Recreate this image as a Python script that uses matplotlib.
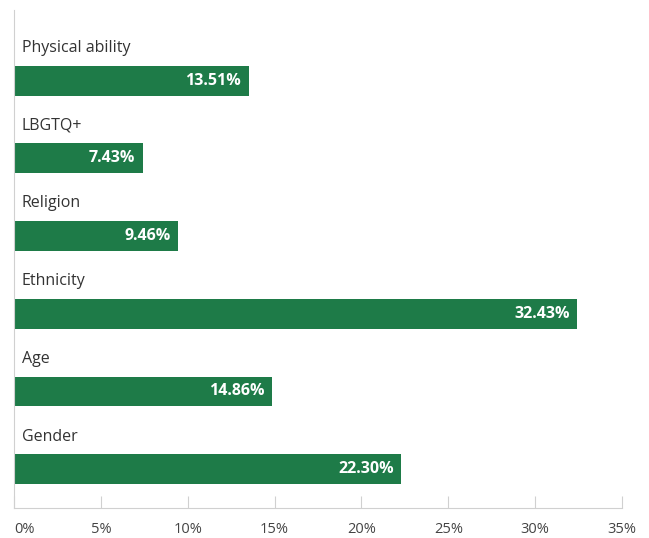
import matplotlib
matplotlib.use("Agg")
from matplotlib import pyplot as plt

categories = ["Gender", "Age", "Ethnicity", "Religion", "LBGTQ+", "Physical ability"]
values = [22.30, 14.86, 32.43, 9.46, 7.43, 13.51]
xticks = [0, 5, 10, 15, 20, 25, 30, 35]

green = "#1e7b48"
grid_grey = "#d0d0d0"

plt.rcParams['font.family'] = ['Open Sans', 'DejaVu Sans']

fig = plt.figure(figsize=(6.49, 5.38), dpi=100)
ax = fig.add_axes([14 / 649, 30 / 538, 608 / 649, 498 / 538])

pos = list(range(len(categories)))
ax.barh(pos, values, height=0.385, color=green, zorder=2)

for p, name, v in zip(pos, categories, values):
    ax.text(0.46, p + 0.42, name, ha='left', va='center', fontsize=11.5, color='#333333')
    ax.text(v - 0.45, p, "%.2f%%" % v, ha='right', va='center', fontsize=11.5,
            color='white', fontweight='bold', zorder=3)

ax.set_xlim(0, 35)
ax.set_ylim(-0.5, 5.91)
ax.set_xticks(xticks)
labels = ax.set_xticklabels(["%d%%" % t for t in xticks], fontsize=10.5, color='#444444')
labels[0].set_horizontalalignment('left')
labels[0].set_x(-0.2)

for s in ['top', 'right']:
    ax.spines[s].set_visible(False)
ax.spines['bottom'].set_color(grid_grey)
ax.spines['left'].set_color(grid_grey)
ax.set_yticks([])
ax.tick_params(axis='x', direction='in', length=9, color=grid_grey, pad=10)

fig.savefig("out.png", dpi=100)
